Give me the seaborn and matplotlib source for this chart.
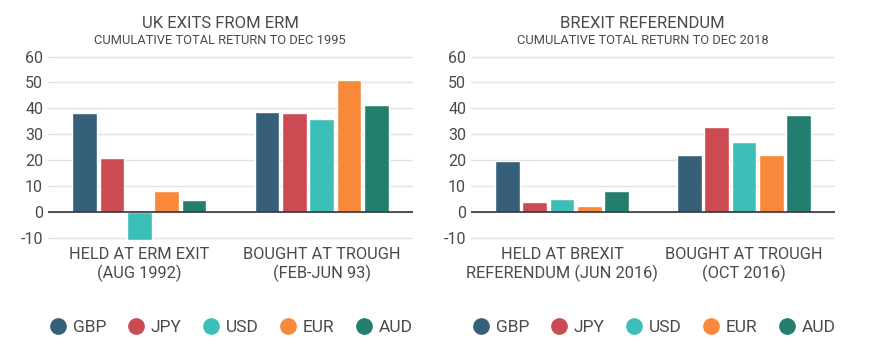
import pandas as pd
import matplotlib
matplotlib.use('Agg')
import matplotlib.pyplot as plt
from matplotlib.lines import Line2D
import seaborn as sns

# Currencies and colours
currencies = ['GBP', 'JPY', 'USD', 'EUR', 'AUD']
colors = ['#365f7a', '#cc4a51', '#3dbfb9', '#f8893a', '#237e70']

# Left panel: UK exits from ERM
erm_groups = ['HELD AT ERM EXIT\n(AUG 1992)', 'BOUGHT AT TROUGH\n(FEB-JUN 93)']
erm_held = [38.1, 20.8, -10.8, 8.2, 4.5]
erm_trough = [38.5, 38.4, 35.8, 50.8, 41.3]

# Right panel: Brexit referendum
brexit_groups = ['HELD AT BREXIT\nREFERENDUM (JUN 2016)', 'BOUGHT AT TROUGH\n(OCT 2016)']
brexit_held = [19.8, 3.9, 4.9, 2.2, 8.0]
brexit_trough = [21.9, 32.7, 27.0, 21.9, 37.3]

yticks = [-10, 0, 10, 20, 30, 40, 50, 60]


def make_df(groups, held, trough):
    rows = []
    for g, vals in zip(groups, [held, trough]):
        for c, v in zip(currencies, vals):
            rows.append({'group': g, 'currency': c, 'value': v})
    return pd.DataFrame(rows)


sns.set_style('white')
plt.rcParams['font.family'] = ['Roboto', 'DejaVu Sans']
plt.rcParams['axes.unicode_minus'] = False
text_color = '#4a4a4a'

fig = plt.figure(figsize=(8.7, 3.5), dpi=100)
ax1 = fig.add_axes([0.0552, 0.313, 0.4195, 0.529])
ax2 = fig.add_axes([0.5414, 0.313, 0.4184, 0.529])

panels = [
    (ax1, make_df(erm_groups, erm_held, erm_trough), erm_groups,
     'UK EXITS FROM ERM', 'CUMULATIVE TOTAL RETURN TO DEC 1995', 0.253),
    (ax2, make_df(brexit_groups, brexit_held, brexit_trough), brexit_groups,
     'BREXIT REFERENDUM', 'CUMULATIVE TOTAL RETURN TO DEC 2018', 0.7385),
]

for ax, df, groups, title, subtitle, tx in panels:
    sns.barplot(data=df, x='group', y='value', hue='currency', order=groups,
                hue_order=currencies, palette=colors, width=0.75, gap=0.1,
                saturation=1, legend=False, ax=ax, zorder=3)
    ax.set_ylim(-11, 60.5)
    ax.set_xlim(-0.5, 1.5)
    ax.set_yticks(yticks)
    ax.grid(axis='y', color='#e2e2e2', linewidth=1, zorder=0)
    ax.axhline(0, color='#333333', linewidth=1.2, zorder=4)
    sns.despine(ax=ax, left=True, bottom=True)
    ax.set_xlabel('')
    ax.set_ylabel('')
    ax.tick_params(axis='both', length=0, colors=text_color, labelsize=11.5)
    ax.tick_params(axis='x', pad=5, labelsize=11.8)
    for lbl in ax.get_xticklabels():
        lbl.set_linespacing(1.15)
    fig.text(tx, 0.934, title, ha='center', va='center', fontsize=12, color=text_color)
    fig.text(tx, 0.884, subtitle, ha='center', va='center', fontsize=9.3, color=text_color)

    handles = [Line2D([0], [0], marker='o', linestyle='', markersize=11,
                      markerfacecolor=c, markeredgecolor=c, label=n)
               for c, n in zip(colors, currencies)]
    leg = ax.legend(handles=handles, loc='center', bbox_to_anchor=(0.5, -0.472),
                    ncol=5, frameon=False, fontsize=12.5, handletextpad=0.25,
                    columnspacing=1.1, handlelength=1.2)
    for t in leg.get_texts():
        t.set_color(text_color)

fig.savefig('out.png', dpi=100, facecolor='white')
